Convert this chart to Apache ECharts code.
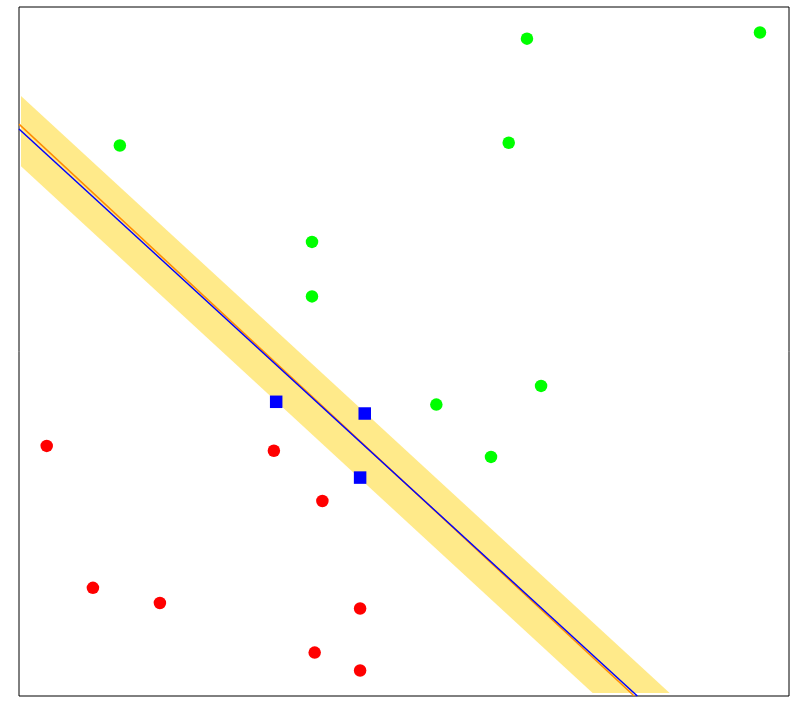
<!DOCTYPE html>
<html>
<head>
<meta charset="utf-8">
<script src="https://cdn.jsdelivr.net/npm/echarts@6/dist/echarts.min.js"></script>
<style>html,body{margin:0;padding:0;background:#fff;}#c{width:802px;height:707px;}</style>
</head>
<body>
<div id="c"></div>
<script>
const greenPoints = [[65.97,95.4],[96.23,96.3],[13.1,79.9],[63.6,80.3],[38.05,65.9],[38.05,58.0],[67.8,45.0],[54.2,42.3],[61.3,34.7]];
const redPoints = [[3.6,36.3],[33.1,35.6],[39.4,28.3],[9.6,15.7],[18.3,13.5],[44.3,12.7],[38.4,6.3],[44.3,3.7]];
const bluePoints = [[33.4,42.7],[44.9,41.0],[44.3,31.7]];
const orangeLine = [[0,83.0],[79.9,0]];
const blueLine = [[0,82.3],[80.3,0]];
const band = [[0.26,87.1],[84.5,0.44],[74.5,0.44],[0.26,76.9]];

const chart = echarts.init(document.getElementById('c'));
const hiddenAxis = (min,max)=>({type:'value',min:min,max:max,axisLine:{show:false},axisTick:{show:false},axisLabel:{show:false},splitLine:{show:false}});
chart.setOption({
  animation:false,
  backgroundColor:'#fff',
  grid:{left:19,right:13,top:7,bottom:11,show:true,borderColor:'#000',borderWidth:1,backgroundColor:'transparent'},
  xAxis:hiddenAxis(0,100),
  yAxis:hiddenAxis(0,100),
  series:[
    {type:'custom',z:1,silent:true,data:[0],renderItem:function(params,api){
      const pts = band.map(p=>api.coord(p));
      return {type:'polygon',shape:{points:pts},style:{fill:'#ffea8a'}};
    }},
    {type:'line',z:2,data:orangeLine,symbol:'none',lineStyle:{color:'#ff8c00',width:1.5},silent:true},
    {type:'line',z:3,data:blueLine,symbol:'none',lineStyle:{color:'#0000ff',width:1.5},silent:true},
    {type:'scatter',z:4,data:greenPoints,symbol:'circle',symbolSize:12.5,itemStyle:{color:'#00ff00',opacity:1}},
    {type:'scatter',z:4,data:redPoints,symbol:'circle',symbolSize:12.5,itemStyle:{color:'#ff0000',opacity:1}},
    {type:'scatter',z:4,data:bluePoints,symbol:'rect',symbolSize:12.5,itemStyle:{color:'#0000ff',opacity:1}}
  ]
});
</script>
</body>
</html>
